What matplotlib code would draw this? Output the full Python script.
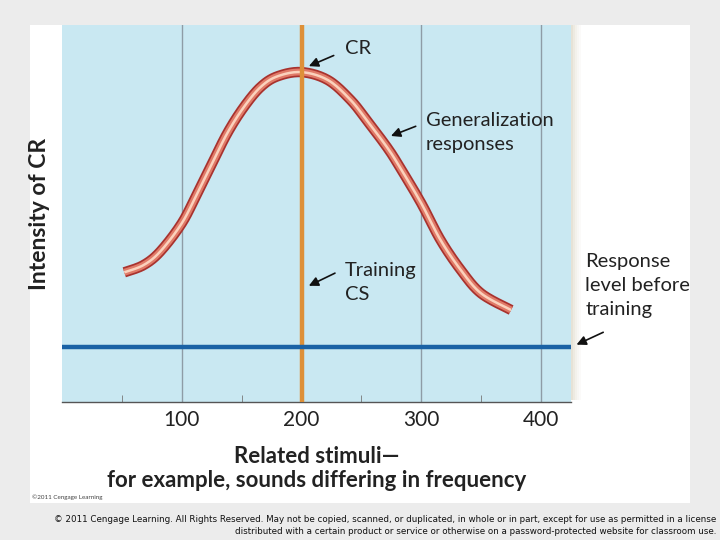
import numpy as np
import matplotlib.pyplot as plt
from matplotlib.patches import Rectangle

# generalization curve
curve_x = [52, 68, 82, 100, 113, 124, 138, 152, 166, 180, 200, 222, 241, 255, 272, 283, 300, 316, 333, 350, 375]
curve_y = [34.4, 36.3, 39.9, 47.4, 55.4, 62.4, 71.3, 78.3, 83.6, 86.4, 87.5, 85.4, 80.1, 74.5, 67.3, 61.8, 52.7, 43.0, 35.0, 28.8, 24.4]
training_cs = 200
baseline = 14.6
tick_pos = [100, 200, 300, 400]
tick_labels = ['100', '200', '300', '400']
minor_pos = [50, 150, 250, 350]

plt.rcParams['font.family'] = ['Lato', 'DejaVu Sans']


# catmull-rom through the read points so the tube looks smooth
def smooth(px, py, n=20):
    p = np.column_stack([px, py]).astype(float)
    p = np.vstack([p[0], p, p[-1]])
    out = []
    for i in range(1, len(p) - 2):
        p0, p1, p2, p3 = p[i-1], p[i], p[i+1], p[i+2]
        for t in np.linspace(0, 1, n, endpoint=False):
            t2, t3 = t*t, t*t*t
            out.append(0.5 * (2*p1 + (-p0 + p2)*t + (2*p0 - 5*p1 + 4*p2 - p3)*t2 + (-p0 + 3*p1 - 3*p2 + p3)*t3))
    out.append(p[-2])
    out = np.array(out)
    return out[:, 0], out[:, 1]


fig = plt.figure(figsize=(7.2, 5.4), dpi=100, facecolor='#ececec')
# white panel behind the figure
fig.patches.append(Rectangle((30/720, 37/540), 660/720, 478/540, transform=fig.transFigure,
                             facecolor='white', edgecolor='none', zorder=-5))
# soft shadow on the right of the plot panel
for i, a in enumerate([0.35, 0.25, 0.17, 0.1, 0.05]):
    fig.patches.append(Rectangle(((571 + 2*i)/720, 140/540), 2/720, 375/540, transform=fig.transFigure,
                                 facecolor='#b8ad8a', alpha=a, edgecolor='none', zorder=-4))

ax = fig.add_axes([62/720, 138/540, 509/720, 377/540])
ax.set_facecolor('#c9e8f2')
ax.set_xlim(0, 425)
ax.set_ylim(0, 100)

for x in tick_pos:
    ax.axvline(x, color='#8e9ca6', lw=1, zorder=1)

xs, ys = smooth(curve_x, curve_y)
ax.plot(xs, ys, color='#a8322e', lw=7.5, solid_capstyle='butt', zorder=3)
ax.plot(xs, ys, color='#e07a68', lw=5, solid_capstyle='butt', zorder=3)
ax.plot(xs, ys, color='#fbd2bd', lw=1.8, solid_capstyle='butt', zorder=3)

ax.axvline(training_cs, color='#de9038', lw=3.2, zorder=4)
ax.axhline(baseline, color='#1a62a5', lw=3.2, zorder=4)

for s in ['top', 'right', 'left']:
    ax.spines[s].set_visible(False)
ax.spines['bottom'].set_color('#555555')
ax.spines['bottom'].set_linewidth(1)

ax.set_yticks([])
ax.set_xticks(tick_pos)
ax.set_xticklabels(tick_labels, fontsize=15, color='#222222')
ax.tick_params(axis='x', which='major', length=0, pad=6)
ax.set_xticks(minor_pos, minor=True)
ax.tick_params(axis='x', which='minor', direction='in', length=5, color='#777777')

ax.set_xlabel('Related stimuli\u2014\nfor example, sounds differing in frequency',
              fontsize=16, fontweight='bold', color='#222222', labelpad=11, linespacing=1.2)
ax.set_ylabel('Intensity of CR', fontsize=16.5, fontweight='bold', color='#222222', labelpad=9)

arrow = dict(arrowstyle='-|>', color='#111111', lw=1.2, mutation_scale=14)
txt = dict(fontsize=14.5, color='#222222', va='center', ha='left', linespacing=1.5)

ax.annotate('', xy=(204, 88.8), xytext=(229, 92.2), arrowprops=arrow, annotation_clip=False)
ax.text(236, 93.8, 'CR', **txt)

ax.annotate('', xy=(272.5, 70.3), xytext=(297.5, 73.4), arrowprops=arrow, annotation_clip=False)
ax.text(304, 71.6, 'Generalization\nresponses', **txt)

ax.annotate('', xy=(204, 30.5), xytext=(230, 34.5), arrowprops=arrow, annotation_clip=False)
ax.text(236, 31.6, 'Training\nCS', **txt)

ax.annotate('', xy=(427.5, 14.9), xytext=(454, 18.8), arrowprops=arrow, annotation_clip=False)
ax.text(437, 30.8, 'Response\nlevel before\ntraining', clip_on=False, **txt)

fig.text(32/720, 1 - 497/540, '\u00a92011 Cengage Learning', fontsize=4.5, color='#444444',
         ha='left', va='center')
fig.text(716/720, 1 - 520/540,
         '\u00a9 2011 Cengage Learning. All Rights Reserved. May not be copied, scanned, or duplicated, in whole or in part, except for use as permitted in a license',
         fontsize=6.3, color='#111111', ha='right', va='center', family='Liberation Sans Narrow')
fig.text(716/720, 1 - 532/540,
         'distributed with a certain product or service or otherwise on a password-protected website for classroom use.',
         fontsize=6.3, color='#111111', ha='right', va='center', family='Liberation Sans Narrow')

fig.savefig('out.png', dpi=100, facecolor=fig.get_facecolor())
